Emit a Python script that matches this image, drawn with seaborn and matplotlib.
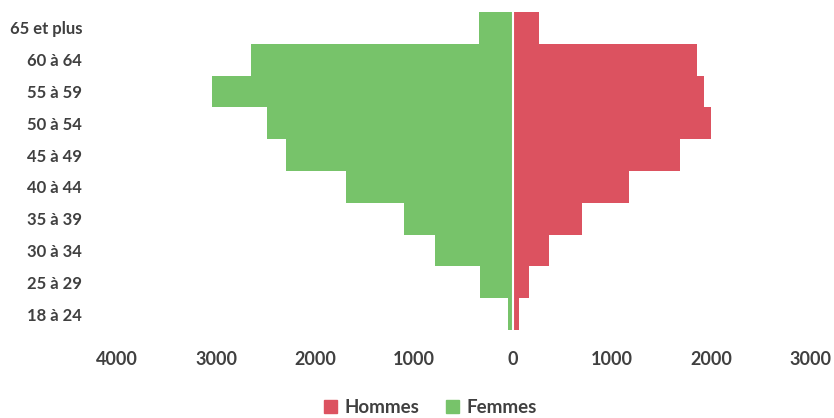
import pandas as pd
import seaborn as sns
import matplotlib.pyplot as plt
from matplotlib.ticker import FuncFormatter
from matplotlib.patches import Patch

age_groups = ['65 et plus', '60 à 64', '55 à 59', '50 à 54', '45 à 49',
              '40 à 44', '35 à 39', '30 à 34', '25 à 29', '18 à 24']
hommes = [260, 1855, 1925, 2005, 1685, 1170, 695, 360, 160, 60]
femmes = [340, 2650, 3040, 2480, 2290, 1690, 1100, 785, 335, 50]

red = '#dc5260'
green = '#77c36a'
text_color = '#404040'

data = pd.DataFrame({
    'Age': age_groups * 2,
    'Valeur': hommes + [-v for v in femmes],
    'Sexe': ['Hommes'] * len(age_groups) + ['Femmes'] * len(age_groups),
})

sns.set_style('white')
plt.rcParams['font.family'] = ['Lato', 'DejaVu Sans']

fig = plt.figure(figsize = (8.34, 4.18), dpi = 100)
ax = fig.add_axes([0.1403, 0.2105, 0.8309, 0.7608])

sns.barplot(data = data, x = 'Valeur', y = 'Age', hue = 'Sexe', order = age_groups,
            palette = {'Hommes': red, 'Femmes': green}, dodge = False, width = 1.0,
            saturation = 1, orient = 'h', linewidth = 0, legend = False, ax = ax)

ax.axvline(0, color = 'white', lw = 1.5)
ax.set_xlim(-4000, 3000)
ax.set_ylim(9.5, -0.5)
ax.set_xticks(range(-4000, 3001, 1000))
ax.xaxis.set_major_formatter(FuncFormatter(lambda v, p: f'{abs(int(v))}'))
ax.set_xlabel('')
ax.set_ylabel('')
ax.tick_params(axis = 'both', length = 0, colors = text_color)
ax.tick_params(axis = 'y', pad = 25, labelsize = 12)
ax.tick_params(axis = 'x', pad = 15, labelsize = 13)
for lbl in ax.get_xticklabels() + ax.get_yticklabels():
    lbl.set_fontweight('bold')
sns.despine(ax = ax, left = True, bottom = True)

handles = [Patch(color = red, label = 'Hommes'), Patch(color = green, label = 'Femmes')]
fig.legend(handles = handles, loc = 'center', bbox_to_anchor = (0.516, 0.026), ncol = 2,
           frameon = False, handlelength = 0.7, handleheight = 0.7, handletextpad = 0.4,
           columnspacing = 1.4, prop = {'size': 13.5, 'weight': 'bold'}, labelcolor = text_color)

fig.savefig('out.png', dpi = 100)
